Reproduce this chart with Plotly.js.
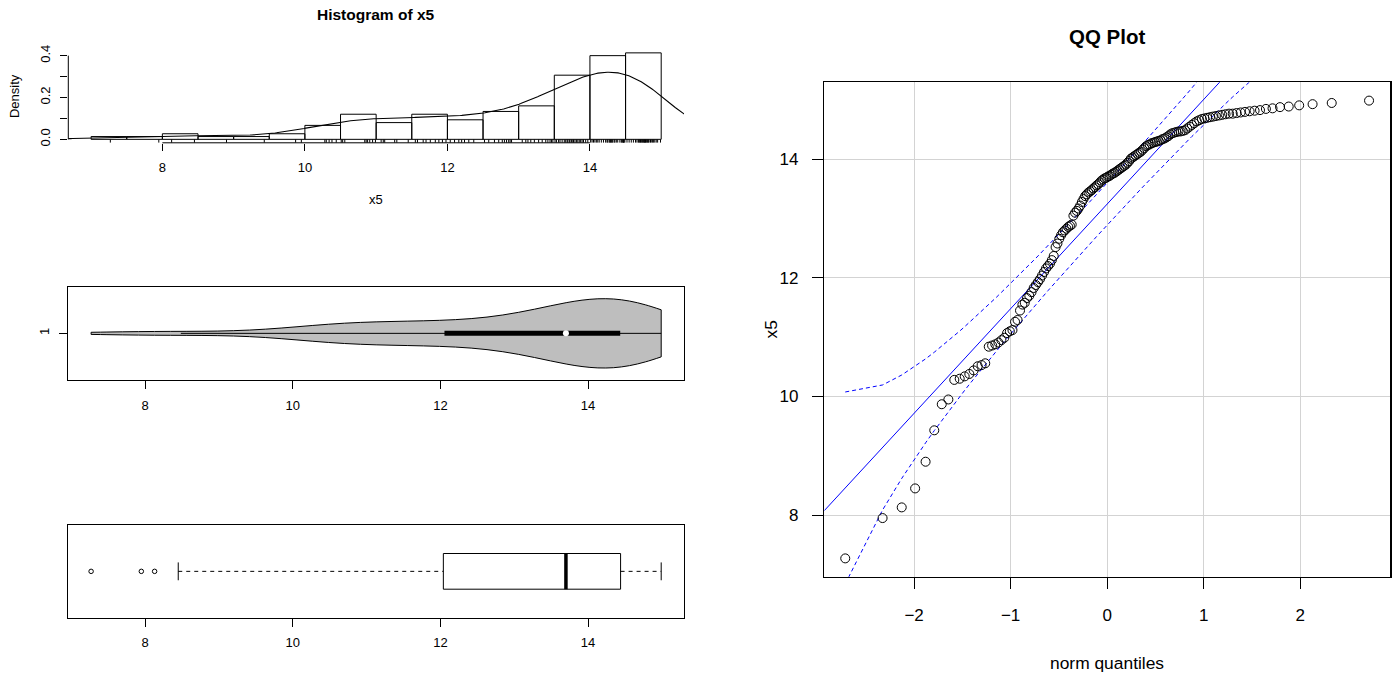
<!DOCTYPE html>
<html><head><meta charset="utf-8">
<script src="https://cdn.plot.ly/plotly-3.0.1.min.js"></script>
<style>html,body{margin:0;padding:0;background:#fff}#chart{width:1393px;height:673px}</style>
</head><body><div id="chart"></div>
<script>
// ---------------- data ----------------
const x5 = [
  7.27, 7.95, 8.13, 8.45, 8.90, 9.43, 9.87, 9.95,
  10.28, 10.30, 10.34, 10.38, 10.44,
  10.51, 10.53, 10.56, 10.84, 10.86, 10.88, 10.91, 10.95, 10.99,
  11.07, 11.10, 11.12, 11.26, 11.29, 11.45,
  11.55, 11.58, 11.66, 11.70, 11.76, 11.83, 11.88, 11.93, 11.98,
  12.04, 12.10, 12.16, 12.20, 12.24, 12.30, 12.37,
  12.52, 12.58, 12.66, 12.72, 12.77, 12.80, 12.83, 12.86, 12.88, 12.90,
  13.05, 13.10, 13.13, 13.17, 13.22, 13.28, 13.33, 13.38, 13.41, 13.44, 13.46, 13.48,
  13.51, 13.53, 13.56, 13.58, 13.61, 13.64, 13.66, 13.68, 13.69, 13.71, 13.72, 13.74,
  13.76, 13.77, 13.79, 13.81, 13.83, 13.85, 13.87, 13.89, 13.91, 13.94, 13.97,
  14.01, 14.03, 14.05, 14.07, 14.09, 14.11, 14.13, 14.16, 14.19, 14.22, 14.24, 14.25,
  14.27, 14.28, 14.29, 14.30, 14.31, 14.32, 14.34, 14.35, 14.37, 14.39, 14.42, 14.44,
  14.45, 14.46, 14.47, 14.47, 14.48, 14.49,
  14.52, 14.55, 14.58, 14.61, 14.64, 14.66, 14.68, 14.69, 14.70, 14.71, 14.72, 14.73,
  14.74, 14.75, 14.76, 14.77, 14.77, 14.78, 14.79, 14.80, 14.81, 14.82, 14.83, 14.85,
  14.86, 14.88, 14.89, 14.91, 14.93, 14.95, 14.99
];
const histBreakStart = 7, histBreakEnd = 15, histBreakSize = 0.5;
const histXTicks = [8, 10, 12, 14];
const histYTicks = [0, 0.1, 0.2, 0.3, 0.4];
const histYTickText = ['0.0', '', '0.2', '', '0.4'];
const panelXTicks = [8, 10, 12, 14];
const violinYTicks = [1];
const violinYTickText = ['1'];
const qqXTicks = [-2, -1, 0, 1, 2];
const qqYTicks = [8, 10, 12, 14];

// ---------------- statistics ----------------
const sorted = x5.slice().sort((a, b) => a - b);
const n = sorted.length;
const xmin = sorted[0], xmax = sorted[n - 1];
function q7(p) { const h = (n - 1) * p, lo = Math.floor(h), hi = Math.ceil(h); return sorted[lo] + (h - lo) * (sorted[hi] - sorted[lo]); }
function fivenum() {
  const n4 = Math.floor((n + 3) / 2) / 2;
  return [1, n4, (n + 1) / 2, n + 1 - n4, n].map(d => 0.5 * (sorted[Math.floor(d) - 1] + sorted[Math.ceil(d) - 1]));
}
const meanV = x5.reduce((s, v) => s + v, 0) / n;
const sdV = Math.sqrt(x5.reduce((s, v) => s + (v - meanV) * (v - meanV), 0) / (n - 1));
function qnorm(p) {
  const a = [-3.969683028665376e+01, 2.209460984245205e+02, -2.759285104469687e+02, 1.383577518672690e+02, -3.066479806614716e+01, 2.506628277459239e+00];
  const b = [-5.447609879822406e+01, 1.615858368580409e+02, -1.556989798598866e+02, 6.680131188771972e+01, -1.328068155288572e+01];
  const c = [-7.784894002430293e-03, -3.223964580411365e-01, -2.400758277161838e+00, -2.549732539343734e+00, 4.374664141464968e+00, 2.938163982698783e+00];
  const d = [7.784695709041462e-03, 3.224671290700398e-01, 2.445134137142996e+00, 3.754408661907416e+00];
  const pl = 0.02425; let q, r;
  if (p < pl) { q = Math.sqrt(-2 * Math.log(p)); return (((((c[0]*q+c[1])*q+c[2])*q+c[3])*q+c[4])*q+c[5]) / ((((d[0]*q+d[1])*q+d[2])*q+d[3])*q+1); }
  if (p <= 1 - pl) { q = p - 0.5; r = q * q; return (((((a[0]*r+a[1])*r+a[2])*r+a[3])*r+a[4])*r+a[5])*q / (((((b[0]*r+b[1])*r+b[2])*r+b[3])*r+b[4])*r+1); }
  q = Math.sqrt(-2 * Math.log(1 - p)); return -(((((c[0]*q+c[1])*q+c[2])*q+c[3])*q+c[4])*q+c[5]) / ((((d[0]*q+d[1])*q+d[2])*q+d[3])*q+1);
}
function dnorm(z) { return Math.exp(-0.5 * z * z) / Math.sqrt(2 * Math.PI); }

// histogram densities (for axis range)
const nb = Math.round((histBreakEnd - histBreakStart) / histBreakSize);
const counts = new Array(nb).fill(0);
x5.forEach(v => { let k = Math.ceil((v - histBreakStart) / histBreakSize) - 1; k = Math.max(0, Math.min(nb - 1, k)); counts[k]++; });
const dmax = Math.max(...counts) / (n * histBreakSize);

// kernel density (R density() defaults: nrd0 bandwidth, gaussian)
const iqr = q7(0.75) - q7(0.25);
const bw = 0.9 * Math.min(sdV, iqr / 1.34) * Math.pow(n, -0.2);
const kx = [], ky = [];
for (let i = 0; i < 512; i++) {
  const xv = xmin - 3 * bw + i * ((xmax - xmin + 6 * bw) / 511);
  let s = 0; for (const v of x5) s += dnorm((xv - v) / bw);
  kx.push(xv); ky.push(s / (n * bw));
}

// QQ
const P = sorted.map((v, i) => (i + 0.5) / n);
const zq = P.map(qnorm);
const qq1 = q7(0.25), qq3 = q7(0.75);
const slope = (qq3 - qq1) / (qnorm(0.75) - qnorm(0.25));
const inter = qq1 - slope * qnorm(0.25);
const zz = qnorm(0.975);
const envU = [], envL = [];
zq.forEach((z, i) => { const se = slope / dnorm(z) * Math.sqrt(P[i] * (1 - P[i]) / n); const f = inter + slope * z; envU.push(f + zz * se); envL.push(f - zz * se); });

// ranges (R style 4% extension)
const ext = (lo, hi) => [lo - 0.04 * (hi - lo), hi + 0.04 * (hi - lo)];
const histXR = ext(histBreakStart, histBreakEnd);
const histYR = ext(0, dmax);
const panXR = ext(xmin, xmax);
const panYR = ext(0.5, 1.5);
const qqXR = ext(zq[0], zq[n - 1]);
const qqYR = ext(xmin, xmax);

// violin inner stats (vioplot)
const vq1 = q7(0.25), vq3 = q7(0.75), vmed = q7(0.5);
const vLow = Math.max(vq1 - 1.5 * (vq3 - vq1), xmin), vUp = Math.min(vq3 + 1.5 * (vq3 - vq1), xmax);

// boxplot stats (boxplot.stats)
const fn = fivenum();
const bIqr = fn[3] - fn[1];
const inside = sorted.filter(v => v >= fn[1] - 1.5 * bIqr && v <= fn[3] + 1.5 * bIqr);
const bLow = inside[0], bUp = inside[inside.length - 1];
const outl = sorted.filter(v => v < bLow || v > bUp);
const bHalf = 0.208, sHalf = 0.104;

// ---------------- layout helpers ----------------
const W = 1393, H = 673;
const dx = (a, b) => [a / W, b / W];
const dy = (top, bot) => [1 - bot / H, 1 - top / H];
const FONT = 'Liberation Sans, Arial, Helvetica, sans-serif';

const traces = [];
// histogram
traces.push({ type: 'histogram', x: x5, xbins: { start: histBreakStart, end: histBreakEnd, size: histBreakSize },
  histnorm: 'probability density', marker: { color: 'rgba(0,0,0,0)', line: { color: '#000', width: 1 } },
  xaxis: 'x', yaxis: 'y', hoverinfo: 'skip' });
traces.push({ type: 'scatter', mode: 'lines', x: kx, y: ky, line: { color: '#000', width: 1.1 }, xaxis: 'x', yaxis: 'y', hoverinfo: 'skip' });
// rug
const rx = [], ry = [];
const rugTop = histYR[0] + 0.035 * (histYR[1] - histYR[0]);
x5.forEach(v => { rx.push(v, v, null); ry.push(histYR[0], rugTop, null); });
traces.push({ type: 'scatter', mode: 'lines', x: rx, y: ry, line: { color: '#000', width: 1 }, xaxis: 'x', yaxis: 'y', hoverinfo: 'skip', cliponaxis: false });

// violin
traces.push({ type: 'violin', x: x5, y0: 1, orientation: 'h', width: 0.8, scalemode: 'width', spanmode: 'hard',
  fillcolor: '#BEBEBE', line: { color: '#000', width: 1 }, points: false, box: { visible: false }, meanline: { visible: false },
  xaxis: 'x2', yaxis: 'y2', hoverinfo: 'skip' });
traces.push({ type: 'scatter', mode: 'lines', x: [vLow, vUp], y: [1, 1], line: { color: '#000', width: 1 }, xaxis: 'x2', yaxis: 'y2', hoverinfo: 'skip' });
traces.push({ type: 'scatter', mode: 'lines', x: [vq1, vq3], y: [1, 1], line: { color: '#000', width: 5 }, xaxis: 'x2', yaxis: 'y2', hoverinfo: 'skip' });
traces.push({ type: 'scatter', mode: 'markers', x: [vmed], y: [1], marker: { color: '#fff', size: 6, line: { width: 0 } }, xaxis: 'x2', yaxis: 'y2', hoverinfo: 'skip' });

// boxplot
traces.push({ type: 'scatter', mode: 'lines', x: [fn[1], fn[3], fn[3], fn[1], fn[1]], y: [1 - bHalf, 1 - bHalf, 1 + bHalf, 1 + bHalf, 1 - bHalf],
  line: { color: '#000', width: 1 }, xaxis: 'x3', yaxis: 'y3', hoverinfo: 'skip' });
traces.push({ type: 'scatter', mode: 'lines', x: [fn[2], fn[2]], y: [1 - bHalf, 1 + bHalf], line: { color: '#000', width: 3.5 }, xaxis: 'x3', yaxis: 'y3', hoverinfo: 'skip' });
traces.push({ type: 'scatter', mode: 'lines', x: [bLow, fn[1], null, fn[3], bUp], y: [1, 1, null, 1, 1], line: { color: '#000', width: 1, dash: '4px,4px' }, xaxis: 'x3', yaxis: 'y3', hoverinfo: 'skip' });
traces.push({ type: 'scatter', mode: 'lines', x: [bLow, bLow, null, bUp, bUp], y: [1 - sHalf, 1 + sHalf, null, 1 - sHalf, 1 + sHalf], line: { color: '#000', width: 1 }, xaxis: 'x3', yaxis: 'y3', hoverinfo: 'skip' });
traces.push({ type: 'scatter', mode: 'markers', x: outl, y: outl.map(() => 1), marker: { symbol: 'circle-open', color: '#000', size: 4.5, line: { width: 1 } }, xaxis: 'x3', yaxis: 'y3', hoverinfo: 'skip' });

// QQ
traces.push({ type: 'scatter', mode: 'lines', x: qqXR, y: qqXR.map(z => inter + slope * z), line: { color: '#0000FF', width: 1 }, xaxis: 'x4', yaxis: 'y4', hoverinfo: 'skip' });
traces.push({ type: 'scatter', mode: 'lines', x: zq, y: envU, line: { color: '#0000FF', width: 1, dash: '4px,3px' }, xaxis: 'x4', yaxis: 'y4', hoverinfo: 'skip' });
traces.push({ type: 'scatter', mode: 'lines', x: zq, y: envL, line: { color: '#0000FF', width: 1, dash: '4px,3px' }, xaxis: 'x4', yaxis: 'y4', hoverinfo: 'skip' });
traces.push({ type: 'scatter', mode: 'markers', x: zq, y: sorted, marker: { symbol: 'circle-open', color: '#000', size: 9, line: { width: 1 } }, xaxis: 'x4', yaxis: 'y4', hoverinfo: 'skip' });

const smallTick = { family: FONT, size: 13, color: '#000' };
const bigTick = { family: FONT, size: 17, color: '#000' };
const base = { zeroline: false, showgrid: false, ticks: 'outside', tickcolor: '#000', tickwidth: 1, fixedrange: true };

const histL = 68.3, histR = 684, histT = 49.4, histB = 142.8;
const qqL = 824.3, qqR = 1390, qqT = 82.3, qqB = 576.7;
const layout = {
  width: W, height: H, margin: { l: 0, r: 0, t: 0, b: 0 }, paper_bgcolor: '#fff', plot_bgcolor: 'rgba(0,0,0,0)',
  showlegend: false, hovermode: false, font: { family: FONT, color: '#000' },
  xaxis: Object.assign({}, base, { domain: dx(histL, histR), range: histXR, anchor: 'y', showline: false,
    tickvals: histXTicks, ticklen: 7, tickfont: smallTick, ticklabelstandoff: 6 }),
  yaxis: Object.assign({}, base, { domain: dy(histT, histB), range: histYR, anchor: 'x', showline: false,
    tickvals: histYTicks, ticktext: histYTickText, ticklen: 7, tickangle: -90, tickfont: smallTick, ticklabelstandoff: 5 }),
  xaxis2: Object.assign({}, base, { domain: dx(histL, histR), range: panXR, anchor: 'y2', showline: true, mirror: true, linecolor: '#000', linewidth: 1,
    tickvals: panelXTicks, ticklen: 8, tickfont: smallTick, ticklabelstandoff: 5 }),
  yaxis2: Object.assign({}, base, { type: 'linear', domain: dy(286.7, 380), range: panYR, anchor: 'x2', showline: true, mirror: true, linecolor: '#000', linewidth: 1,
    tickvals: violinYTicks, ticktext: violinYTickText, ticklen: 8, tickangle: -90, tickfont: smallTick, ticklabelstandoff: 5 }),
  xaxis3: Object.assign({}, base, { domain: dx(histL, histR), range: panXR, anchor: 'y3', showline: true, mirror: true, linecolor: '#000', linewidth: 1,
    tickvals: panelXTicks, ticklen: 8, tickfont: smallTick, ticklabelstandoff: 5 }),
  yaxis3: Object.assign({}, base, { type: 'linear', domain: dy(525, 617.7), range: panYR, anchor: 'x3', showline: true, mirror: true, linecolor: '#000', linewidth: 1,
    ticks: '', showticklabels: false }),
  xaxis4: Object.assign({}, base, { domain: dx(qqL, qqR), range: qqXR, anchor: 'y4', showline: true, mirror: true, linecolor: '#000', linewidth: 1.5,
    showgrid: true, gridcolor: '#D3D3D3', gridwidth: 1, tickvals: qqXTicks, ticklen: 11, tickfont: bigTick, ticklabelstandoff: 11 }),
  yaxis4: Object.assign({}, base, { domain: dy(qqT, qqB), range: qqYR, anchor: 'x4', showline: true, mirror: true, linecolor: '#000', linewidth: 1.5,
    showgrid: true, gridcolor: '#D3D3D3', gridwidth: 1, tickvals: qqYTicks, ticklen: 11, tickfont: bigTick, ticklabelstandoff: 10 }),
  shapes: [
    { type: 'line', xref: 'x', yref: 'paper', x0: histXTicks[0], x1: histXTicks[histXTicks.length - 1], y0: 1 - histB / H, y1: 1 - histB / H, line: { color: '#000', width: 1 } },
    { type: 'line', xref: 'paper', yref: 'y', x0: histL / W, x1: histL / W, y0: histYTicks[0], y1: histYTicks[histYTicks.length - 1], line: { color: '#000', width: 1 } }
  ],
  annotations: [
    { text: '<b>Histogram of x5</b>', xref: 'paper', yref: 'paper', x: (histL + histR) / 2 / W, y: 1 - 14 / H, showarrow: false, xanchor: 'center', yanchor: 'middle', font: { family: FONT, size: 15.5, color: '#000' } },
    { text: 'Density', xref: 'paper', yref: 'paper', x: 14 / W, y: 1 - ((histT + histB) / 2) / H, textangle: -90, showarrow: false, xanchor: 'center', yanchor: 'middle', font: { family: FONT, size: 13, color: '#000' } },
    { text: 'x5', xref: 'paper', yref: 'paper', x: (histL + histR) / 2 / W, y: 1 - 199 / H, showarrow: false, xanchor: 'center', yanchor: 'middle', font: { family: FONT, size: 13, color: '#000' } },
    { text: '<b>QQ Plot</b>', xref: 'paper', yref: 'paper', x: (qqL + qqR) / 2 / W, y: 1 - 36 / H, showarrow: false, xanchor: 'center', yanchor: 'middle', font: { family: FONT, size: 20.5, color: '#000' } },
    { text: 'x5', xref: 'paper', yref: 'paper', x: 770 / W, y: 1 - ((qqT + qqB) / 2) / H, textangle: -90, showarrow: false, xanchor: 'center', yanchor: 'middle', font: { family: FONT, size: 17.4, color: '#000' } },
    { text: 'norm quantiles', xref: 'paper', yref: 'paper', x: (qqL + qqR) / 2 / W, y: 1 - 663 / H, showarrow: false, xanchor: 'center', yanchor: 'middle', font: { family: FONT, size: 17.4, color: '#000' } }
  ]
};
Plotly.newPlot('chart', traces, layout, { displayModeBar: false, staticPlot: true });
</script>
</body></html>
